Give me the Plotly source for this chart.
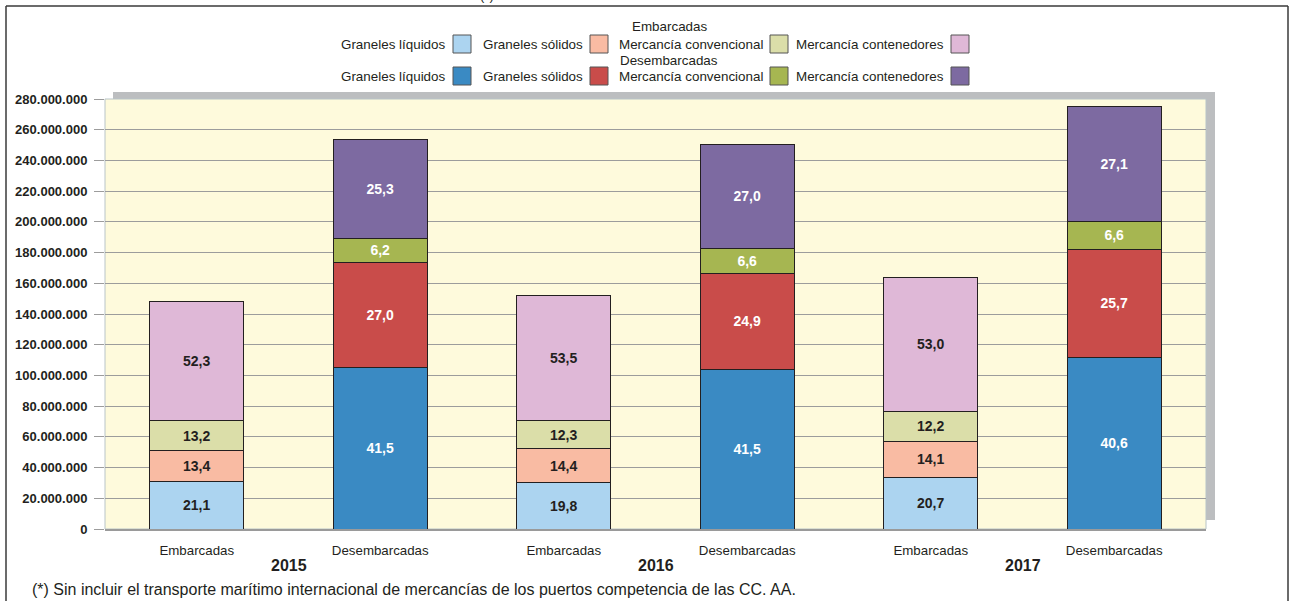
import plotly.graph_objects as go

# ---------------- data ----------------
years = ["2015", "2016", "2017"]
flows = ["Embarcadas", "Desembarcadas"]
x_labels = ["Embarcadas", "Desembarcadas", "Embarcadas", "Desembarcadas", "Embarcadas", "Desembarcadas"]
cargo_types = ["Graneles líquidos", "Graneles sólidos", "Mercancía convencional", "Mercancía contenedores"]

# tonnes, one value per year
emb_liquidos = [31.2e6, 30.2e6, 33.8e6]
emb_solidos = [19.8e6, 21.9e6, 23.1e6]
emb_convencional = [19.5e6, 18.7e6, 19.9e6]
emb_contenedores = [77.4e6, 81.5e6, 86.7e6]

des_liquidos = [105.2e6, 104.0e6, 111.6e6]
des_solidos = [68.4e6, 62.4e6, 70.6e6]
des_convencional = [15.7e6, 16.5e6, 18.1e6]
des_contenedores = [64.2e6, 67.6e6, 74.5e6]

# percentage labels
emb_liquidos_pct = [21.1, 19.8, 20.7]
emb_solidos_pct = [13.4, 14.4, 14.1]
emb_convencional_pct = [13.2, 12.3, 12.2]
emb_contenedores_pct = [52.3, 53.5, 53.0]

des_liquidos_pct = [41.5, 41.5, 40.6]
des_solidos_pct = [27.0, 24.9, 25.7]
des_convencional_pct = [6.2, 6.6, 6.6]
des_contenedores_pct = [25.3, 27.0, 27.1]

y_ticks = list(range(0, 280_000_001, 20_000_000))

footnote = "(*) Sin incluir el transporte marítimo internacional de mercancías de los puertos competencia de las CC. AA."

# ---------------- style ----------------
emb_colors = ["#acd4f0", "#f9bba3", "#dbdea9", "#dfb8d7"]
des_colors = ["#3a8ac3", "#c94c4a", "#a6b651", "#7d6aa1"]
dark = "#231f20"
FONT = "Liberation Sans, Arial, sans-serif"

W, H = 1292, 601
ML, MR, MT, MB = 105, 86, 99, 72
PW, PH = W - ML - MR, H - MT - MB


def px(xp):
    return (xp - ML) / PW


def py(yp):
    return (H - MB - yp) / PH


def fmt(v):
    return f"{v:.1f}".replace(".", ",")


fig = go.Figure()

emb_series = [emb_liquidos, emb_solidos, emb_convencional, emb_contenedores]
emb_pcts = [emb_liquidos_pct, emb_solidos_pct, emb_convencional_pct, emb_contenedores_pct]
des_series = [des_liquidos, des_solidos, des_convencional, des_contenedores]
des_pcts = [des_liquidos_pct, des_solidos_pct, des_convencional_pct, des_contenedores_pct]

emb_x = [2 * i for i in range(len(years))]
des_x = [2 * i + 1 for i in range(len(years))]

for name, vals, pcts, col in zip(cargo_types, emb_series, emb_pcts, emb_colors):
    fig.add_trace(go.Bar(
        x=emb_x, y=vals, name=name, width=0.51,
        marker=dict(color=col, line=dict(color=dark, width=1)),
        text=[fmt(p) for p in pcts], textposition="inside", insidetextanchor="middle",
        textangle=0, textfont=dict(family=FONT, size=14, color=dark, weight="bold"),
        showlegend=False,
    ))
for name, vals, pcts, col in zip(cargo_types, des_series, des_pcts, des_colors):
    fig.add_trace(go.Bar(
        x=des_x, y=vals, name=name, width=0.51,
        marker=dict(color=col, line=dict(color=dark, width=1)),
        text=[fmt(p) for p in pcts], textposition="inside", insidetextanchor="middle",
        textangle=0, textfont=dict(family=FONT, size=14, color="white", weight="bold"),
        showlegend=False,
    ))

shapes = []
# shadow
shapes.append(dict(type="rect", xref="paper", yref="paper", x0=px(113), x1=px(1215), y0=py(520), y1=py(92),
                   fillcolor="#bcbec0", line=dict(width=0), layer="below"))
# plot area
shapes.append(dict(type="rect", xref="paper", yref="paper", x0=0, x1=1, y0=0, y1=1,
                   fillcolor="#fefadc", line=dict(color="#b8c4c8", width=1), layer="below"))
# outer frame
shapes.append(dict(type="line", xref="paper", yref="paper", x0=px(6), x1=px(1288), y0=py(6), y1=py(6),
                   line=dict(color="#3a3a3a", width=1.5)))
shapes.append(dict(type="line", xref="paper", yref="paper", x0=px(6), x1=px(6), y0=py(6), y1=py(605),
                   line=dict(color="#3a3a3a", width=1.5)))
shapes.append(dict(type="line", xref="paper", yref="paper", x0=px(1288), x1=px(1288), y0=py(6), y1=py(605),
                   line=dict(color="#3a3a3a", width=1.5)))

annotations = []
# legend
text_ends = [446, 583, 763, 944]
sw_starts = [453, 590, 770, 951]
rows = [(flows[0], 26, 44, emb_colors), (flows[1], 60, 76, des_colors)]
for header, hy, ry, cols in rows:
    annotations.append(dict(text=header, xref="paper", yref="paper", x=px(669), y=py(hy),
                            xanchor="center", yanchor="middle", showarrow=False,
                            font=dict(family=FONT, size=13.4, color=dark)))
    for name, te, ss, col in zip(cargo_types, text_ends, sw_starts, cols):
        annotations.append(dict(text=name, xref="paper", yref="paper", x=px(te + 2), y=py(ry),
                                xanchor="right", yanchor="middle", showarrow=False,
                                font=dict(family=FONT, size=13.4, color=dark)))
        shapes.append(dict(type="rect", xref="paper", yref="paper", x0=px(ss), x1=px(ss + 18),
                           y0=py(ry + 9), y1=py(ry - 9), fillcolor=col,
                           line=dict(color="#555555", width=1)))

# years
for i, yr in enumerate(years):
    annotations.append(dict(text=f"<b>{yr}</b>", xref="x", yref="paper", x=2 * i + 0.5, y=py(565),
                            xanchor="center", yanchor="middle", showarrow=False,
                            font=dict(family=FONT, size=16, color=dark)))
# footnote
annotations.append(dict(text=footnote, xref="paper", yref="paper", x=px(30), y=py(589),
                        xanchor="left", yanchor="middle", showarrow=False,
                        font=dict(family=FONT, size=16, color=dark)))
# title mark cut at the top edge, as in the reference
annotations.append(dict(text="(*)", xref="paper", yref="paper", x=px(487), y=py(-5),
                        xanchor="center", yanchor="middle", showarrow=False,
                        font=dict(family=FONT, size=13, color=dark)))

fig.update_layout(
    width=W, height=H,
    margin=dict(l=ML, r=MR, t=MT, b=MB, pad=0, autoexpand=False),
    paper_bgcolor="white", plot_bgcolor="rgba(0,0,0,0)",
    barmode="stack",
    separators=",.",
    shapes=shapes, annotations=annotations,
    showlegend=False,
)
fig.update_xaxes(
    range=[-0.5, 5.5], tickvals=list(range(6)), ticktext=x_labels,
    showgrid=False, zeroline=False, showline=True, linecolor="#9a9a9a", linewidth=2,
    ticks="", ticklabelstandoff=8, automargin=False,
    tickfont=dict(family=FONT, size=13.3, color=dark),
)
fig.update_yaxes(
    range=[0, 280_000_000], tickvals=y_ticks, tickformat=",.0f",
    showgrid=True, gridcolor="#9c9c9c", gridwidth=1.2, zeroline=False, showline=False,
    ticks="outside", ticklen=10, tickcolor="#9c9c9c", tickwidth=1.2,
    ticklabelstandoff=4, automargin=False,
    tickfont=dict(family=FONT, size=13, color=dark, weight="bold"),
)

fig.write_html("out.html", config={"displayModeBar": False},
               post_script="document.body.style.margin='0px';")
